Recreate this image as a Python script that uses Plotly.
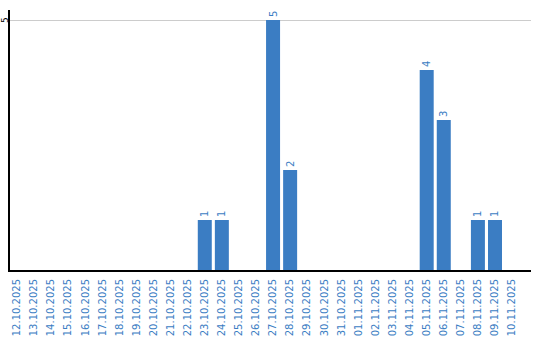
import plotly.graph_objects as go

dates = ["12.10.2025","13.10.2025","14.10.2025","15.10.2025","16.10.2025","17.10.2025",
         "18.10.2025","19.10.2025","20.10.2025","21.10.2025","22.10.2025","23.10.2025",
         "24.10.2025","25.10.2025","26.10.2025","27.10.2025","28.10.2025","29.10.2025",
         "30.10.2025","31.10.2025","01.11.2025","02.11.2025","03.11.2025","04.11.2025",
         "05.11.2025","06.11.2025","07.11.2025","08.11.2025","09.11.2025","10.11.2025"]
counts = [0,0,0,0,0,0,0,0,0,0,0,1,1,0,0,5,2,0,0,0,0,0,0,0,4,3,0,1,1,0]
ytick_vals = [5]

labels = [str(v) if v else "" for v in counts]
blue = "#3b7dc3"

fig = go.Figure(go.Bar(
    x=list(range(len(dates))), y=counts, marker_color=blue, marker_line_width=0,
    text=labels, textposition="outside", textangle=-90,
    textfont=dict(color=blue, size=10, family="DejaVu Sans"),
    cliponaxis=False, hoverinfo="skip"))

fig.update_layout(
    width=540, height=340, margin=dict(l=10, r=9, t=10, b=70, autoexpand=False),
    paper_bgcolor="white", plot_bgcolor="white", bargap=0.18, showlegend=False,
    font=dict(family="DejaVu Sans", size=10),
)
for v in ytick_vals:
    fig.add_annotation(text=str(v), xref="paper", x=0, xshift=-5, xanchor="center",
                       yref="y", y=v, yanchor="middle", textangle=-90, showarrow=False,
                       font=dict(color="black", size=9, family="DejaVu Sans"))
fig.update_xaxes(
    tickmode="array", tickvals=list(range(len(dates))), ticktext=dates,
    tickangle=-90, tickfont=dict(color=blue, size=10, family="DejaVu Sans"),
    range=[-0.41, 30.11], showline=True, linecolor="black", linewidth=2,
    showgrid=False, ticks="", zeroline=False, fixedrange=True,
    automargin=False, ticklabelstandoff=3)
fig.update_yaxes(
    tickmode="array", tickvals=ytick_vals, showticklabels=False,
    range=[0, 5.2], showline=True, linecolor="black", linewidth=2,
    showgrid=True, gridcolor="#cccccc", gridwidth=1, zeroline=False, ticks="",
    automargin=False, fixedrange=True)

fig.write_html("out.html")
